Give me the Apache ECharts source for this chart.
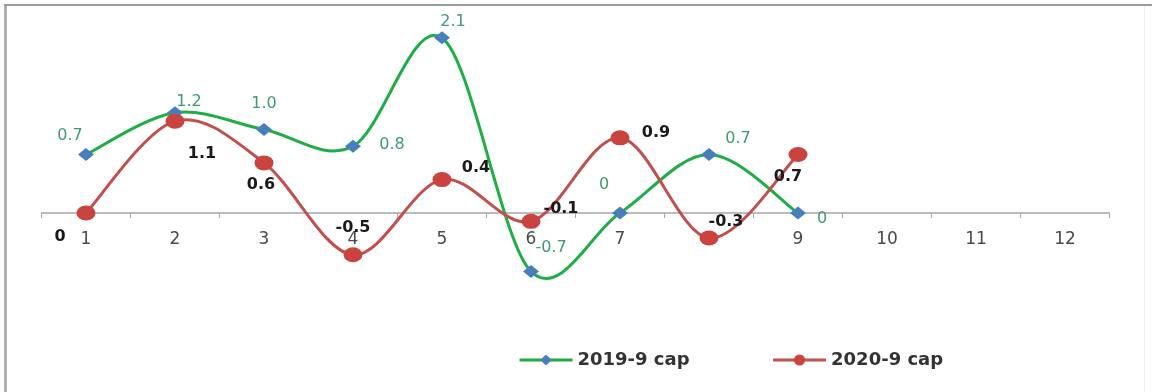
<!DOCTYPE html>
<html>
<head>
<meta charset="utf-8">
<script src="https://cdn.jsdelivr.net/npm/echarts@6/dist/echarts.min.js"></script>
<style>
html,body{margin:0;padding:0;background:#fff;}
#chart{width:1153px;height:392px;}
</style>
</head>
<body>
<div id="chart"></div>
<script>
// ---- data ----
const categories = ['1','2','3','4','5','6','7','8','9','10','11','12'];
const seriesNames = ['2019-9 cap', '2020-9 cap'];
const values2019 = [0.7, 1.2, 1.0, 0.8, 2.1, -0.7, 0, 0.7, 0];
const values2020 = [0, 1.1, 0.6, -0.5, 0.4, -0.1, 0.9, -0.3, 0.7];

// label placement (pixel offsets from each marker centre)
const labelOffsets2019 = [[-16,-19],[14,-11],[0,-26],[39,-1],[11,-16],[20,-24],[-16,-28],[29,-16],[24,6]];
const labelOffsets2020 = [[-26,24],[27,33],[-3,22],[0,-27],[34,-12],[30,-13],[36,-5],[17,-16],[-10,22]];

const GREEN = '#1fae45', BLUE = '#4a7ebb', RED = '#c0504d';
const fmt = v => (v === 0 ? '0' : v.toFixed(1));
const ellipse = 'path://M0,50 A50,50 0 1,0 100,50 A50,50 0 1,0 0,50 Z';

function build(vals, offs) {
  return vals.map((v, i) => ({ value: v, label: { offset: offs[i] } }));
}

// Smooth curve (Catmull-Rom style, like a spreadsheet's smoothed line) drawn
// segment by segment through the chart's own coordinate system.
function curveSeries(name, vals, color, z) {
  const n = vals.length;
  return {
    name: name, type: 'custom', z: z, clip: false, silent: true,
    data: vals,
    renderItem: function (params, api) {
      const i = params.dataIndex;
      if (i >= n - 1) return null;
      const P = k => { const kk = Math.max(0, Math.min(n - 1, k)); return api.coord([kk, vals[kk]]); };
      const p0 = P(i - 1), p1 = P(i), p2 = P(i + 1), p3 = P(i + 2);
      const t = 1 / 6;
      return {
        type: 'bezierCurve',
        shape: {
          x1: p1[0], y1: p1[1], x2: p2[0], y2: p2[1],
          cpx1: p1[0] + (p2[0] - p0[0]) * t, cpy1: p1[1] + (p2[1] - p0[1]) * t,
          cpx2: p2[0] - (p3[0] - p1[0]) * t, cpy2: p2[1] - (p3[1] - p1[1]) * t
        },
        style: { stroke: color, lineWidth: 3, fill: null, lineCap: 'round' }
      };
    }
  };
}

const chart = echarts.init(document.getElementById('chart'));
chart.setOption({
  animation: false,
  backgroundColor: '#ffffff',
  grid: { left: 41.5, width: 1068, top: 4.25, height: 292.25, containLabel: false },
  xAxis: {
    type: 'category',
    data: categories,
    boundaryGap: true,
    offset: -83.5,
    axisLine: { onZero: false, lineStyle: { color: '#a6a6a6', width: 1.5 } },
    axisTick: { show: true, length: 5, lineStyle: { color: '#a6a6a6' } },
    axisLabel: { color: '#4a4a4a', fontFamily: 'DejaVu Sans', fontSize: 17, margin: 18 },
    splitLine: { show: false }
  },
  yAxis: {
    type: 'value', min: -1, max: 2.5, interval: 0.5,
    show: false, splitLine: { show: false }
  },
  legend: {
    left: 513, top: 346,
    itemWidth: 53, itemHeight: 14, itemGap: 82,
    textStyle: { color: '#333333', fontFamily: 'DejaVu Sans', fontSize: 18, fontWeight: 'bold' },
    data: [
      { name: seriesNames[0], lineStyle: { color: GREEN, width: 3, opacity: 1 } },
      { name: seriesNames[1], lineStyle: { color: RED, width: 3, opacity: 1 } }
    ]
  },
  graphic: [
    { type: 'line', shape: { x1: 5.5, y1: 4, x2: 5.5, y2: 392 }, style: { stroke: '#b0b0b0', lineWidth: 3 }, silent: true },
    { type: 'line', shape: { x1: 4, y1: 5, x2: 1152, y2: 5 }, style: { stroke: '#9a9a9a', lineWidth: 2 }, silent: true },
    { type: 'line', shape: { x1: 1144.5, y1: 6, x2: 1144.5, y2: 392 }, style: { stroke: '#eeeeee', lineWidth: 1 }, silent: true }
  ],
  series: [
    {
      name: seriesNames[0], type: 'line',
      data: build(values2019, labelOffsets2019),
      symbol: 'diamond', symbolSize: [16, 13],
      lineStyle: { color: GREEN, width: 3, opacity: 0 },
      itemStyle: { color: BLUE },
      label: {
        show: true, position: 'inside', formatter: p => fmt(p.value),
        color: '#3f9a72', fontFamily: 'DejaVu Sans', fontSize: 16
      },
      z: 3
    },
    curveSeries(seriesNames[0], values2019, GREEN, 2),
    {
      name: seriesNames[1], type: 'line',
      data: build(values2020, labelOffsets2020),
      symbol: ellipse, symbolSize: [19, 15],
      lineStyle: { color: RED, width: 3, opacity: 0 },
      itemStyle: { color: '#c9443f' },
      label: {
        show: true, position: 'inside', formatter: p => fmt(p.value),
        color: '#1a1a1a', fontFamily: 'DejaVu Sans', fontSize: 16, fontWeight: 'bold'
      },
      z: 5
    },
    curveSeries(seriesNames[1], values2020, RED, 4)
  ]
});
</script>
</body>
</html>
